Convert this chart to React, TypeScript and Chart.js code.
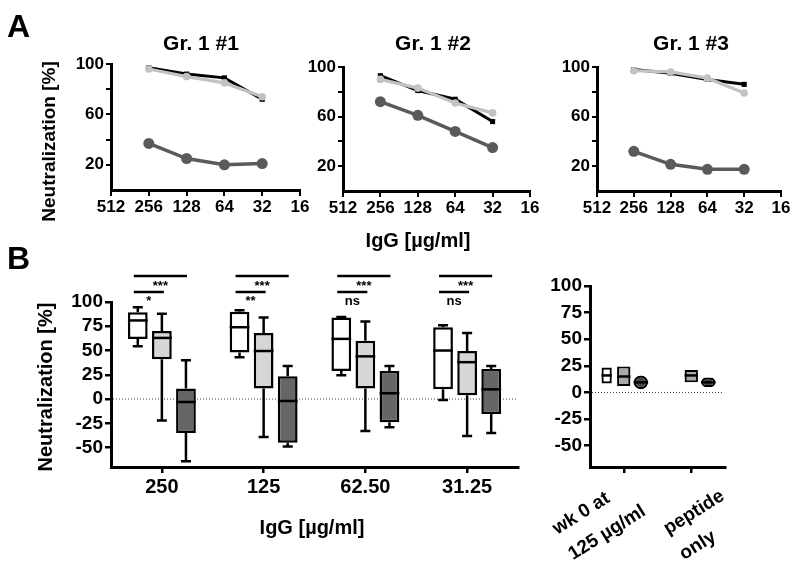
import React, { useEffect, useRef } from 'react';
import { Chart, registerables } from 'chart.js';
Chart.register(...registerables);

const FONT = '"Liberation Sans", Arial, Helvetica, sans-serif';

// ---------------- Panel A data ----------------
const doseTicks = [512, 256, 128, 64, 32, 16];
const doses = [256, 128, 64, 32];
const yTicksA = [20, 40, 60, 80, 100];
const yLabelsA = [20, 60, 100];
const titlesA = ['Gr. 1 #1', 'Gr. 1 #2', 'Gr. 1 #3'];

const m1Black = [97, 92, 89, 72];
const m1Light = [96, 90, 85, 74];
const m1Dark = [37, 25, 20, 21];
const m2Black = [93, 81, 74, 56];
const m2Light = [90, 83, 71, 63];
const m2Dark = [72, 61, 48, 35];
const m3Black = [98, 95, 90, 86];
const m3Light = [97, 96, 91, 79];
const m3Dark = [32, 21.5, 17.5, 17.5];

// ---------------- Panel B data ----------------
const concentrations = ['250', '125', '62.50', '31.25'];
const yTicksB = [-50, -25, 0, 25, 50, 75, 100];

const whiteMin = [54.5, 43, 24.5, -1];
const whiteQ1 = [62, 48, 29, 10];
const whiteMed = [81, 74, 62, 50];
const whiteQ3 = [89.5, 90, 84, 74];
const whiteMax = [94.5, 91.5, 84.5, 76];

const lightMin = [-22, -39, -33, -38];
const lightQ1 = [41, 11, 11, 4];
const lightMed = [63, 49.5, 44, 38];
const lightQ3 = [70, 68, 60, 49.5];
const lightMax = [88, 84, 80, 68];

const darkMin = [-64, -49, -29, -35];
const darkQ1 = [-35, -45, -24, -15.5];
const darkMed = [-3, -2, 6, 10];
const darkQ3 = [11, 23.5, 29, 31];
const darkMax = [40, 34, 34, 34];

const sigTop = ['***', '***', '***', '***'];
const sigBottom = ['*', '**', 'ns', 'ns'];

const controlCats = [['wk 0 at', '125 µg/ml'], ['peptide', 'only']];
const ctrlWhiteQ1 = [8.5, null];
const ctrlWhiteMed = [16, null];
const ctrlWhiteQ3 = [23.5, null];
const ctrlGrayQ1 = [6, 9.5];
const ctrlGrayMed = [15, 16];
const ctrlGrayQ3 = [24.5, 21];
const ctrlDarkQ1 = [3, 5];
const ctrlDarkMed = [9.5, 9.5];
const ctrlDarkQ3 = [16, 14];

// ---------------- helpers ----------------
const boldFont = (size: number) => ({ family: FONT, size, weight: 'bold' as const });

function axisStyle() {
  return {
    grid: { drawOnChartArea: false, drawTicks: true, tickLength: 6, color: '#000', lineWidth: 2 },
    border: { display: true, color: '#000', width: 3 },
  };
}

type Area = { left: number; top: number; right: number; bottom: number };
const Y_W = 60;
const X_H = 40;

function padFor(area: Area, yw = Y_W, xh = X_H) {
  return { left: area.left - yw, top: area.top, right: 800 - area.right, bottom: 570 - area.bottom - xh };
}

function lineConfig(black: number[], light: number[], dark: number[], area: Area): any {
  const pts = (vals: number[]) => doses.map((x, i) => ({ x, y: vals[i] }));
  return {
    type: 'line',
    data: {
      datasets: [
        { data: pts(light), borderColor: '#c2c2c2', backgroundColor: '#c2c2c2', borderWidth: 3.2, pointRadius: 3.8, pointBorderWidth: 0 },
        { data: pts(black), borderColor: '#000', backgroundColor: '#000', borderWidth: 3, pointRadius: 3.6, pointStyle: 'rect', pointBorderWidth: 0 },
        { data: pts(dark), borderColor: '#5a5a5a', backgroundColor: '#5a5a5a', borderWidth: 3.5, pointRadius: 5.5, pointBorderWidth: 0 },
      ],
    },
    options: {
      responsive: false,
      animation: false,
      events: [],
      layout: { padding: padFor(area) },
      plugins: { legend: { display: false }, tooltip: { enabled: false } },
      scales: {
        x: {
          type: 'logarithmic',
          reverse: true,
          min: 16,
          max: 512,
          afterBuildTicks: (s: any) => { s.ticks = doseTicks.map((v) => ({ value: v })); },
          afterFit: (s: any) => { s.height = X_H; },
          ticks: { callback: (v: any) => String(v), autoSkip: false, maxRotation: 0, minRotation: 0, font: boldFont(17), color: '#000', padding: 1 },
          ...axisStyle(),
        },
        y: {
          min: 0,
          max: 100,
          afterBuildTicks: (s: any) => { s.ticks = yTicksA.map((v) => ({ value: v })); },
          afterFit: (s: any) => { s.width = Y_W; },
          ticks: { callback: (v: any) => (yLabelsA.includes(v) ? String(v) : ''), font: boldFont(17), color: '#000', padding: 2 },
          ...axisStyle(),
          grid: { drawOnChartArea: false, drawTicks: true, tickLength: 5, color: '#000', lineWidth: 2 },
        },
      },
    },
  };
}

const boxPlugin = {
  id: 'boxWhiskers',
  beforeDatasetsDraw(chart: any) {
    const { ctx, chartArea, scales } = chart;
    const y = scales.y.getPixelForValue(0);
    ctx.save();
    ctx.strokeStyle = '#444';
    ctx.lineWidth = 1;
    ctx.setLineDash([1, 2]);
    ctx.beginPath();
    ctx.moveTo(chartArea.left + 2, y);
    ctx.lineTo(chartArea.right - 2, y);
    ctx.stroke();
    ctx.restore();
  },
  afterDatasetsDraw(chart: any) {
    const { ctx, scales } = chart;
    const ys = scales.y;
    ctx.save();
    ctx.strokeStyle = '#000';
    ctx.lineWidth = 2.5;
    ctx.lineCap = 'butt';
    chart.data.datasets.forEach((ds: any, d: number) => {
      const meta = chart.getDatasetMeta(d);
      meta.data.forEach((el: any, i: number) => {
        const v = ds.data[i];
        if (v == null) return;
        const { x, width } = el.getProps(['x', 'width'], true);
        const half = width / 2;
        if (ds.meds) {
          const ym = ys.getPixelForValue(ds.meds[i]);
          ctx.beginPath();
          ctx.moveTo(x - half, ym);
          ctx.lineTo(x + half, ym);
          ctx.stroke();
        }
        if (ds.mins && ds.maxs) {
          const cap = 5;
          const yq1 = ys.getPixelForValue(v[0]);
          const yq3 = ys.getPixelForValue(v[1]);
          const ymin = ys.getPixelForValue(ds.mins[i]);
          const ymax = ys.getPixelForValue(ds.maxs[i]);
          ctx.beginPath();
          ctx.moveTo(x, yq3);
          ctx.lineTo(x, ymax);
          ctx.moveTo(x - cap, ymax);
          ctx.lineTo(x + cap, ymax);
          ctx.moveTo(x, yq1);
          ctx.lineTo(x, ymin);
          ctx.moveTo(x - cap, ymin);
          ctx.lineTo(x + cap, ymin);
          ctx.stroke();
        }
      });
    });
    ctx.restore();
  },
};

const sigPlugin = {
  id: 'significance',
  afterDraw(chart: any) {
    const { ctx, chartArea } = chart;
    const m0 = chart.getDatasetMeta(0).data;
    const m1 = chart.getDatasetMeta(1).data;
    const m2 = chart.getDatasetMeta(2).data;
    ctx.save();
    ctx.strokeStyle = '#000';
    ctx.fillStyle = '#000';
    ctx.lineWidth = 2.5;
    ctx.textAlign = 'center';
    ctx.textBaseline = 'alphabetic';
    ctx.font = `bold 13px ${FONT}`;
    concentrations.forEach((_, i) => {
      const xa = m0[i].x - 4;
      const xb = m2[i].x + 1;
      const xc = m1[i].x + 2;
      const y1 = chartArea.top - 26;
      const y2 = chartArea.top - 10;
      ctx.beginPath();
      ctx.moveTo(xa, y1);
      ctx.lineTo(xb, y1);
      ctx.moveTo(xa, y2);
      ctx.lineTo(xc, y2);
      ctx.stroke();
      ctx.fillText(sigTop[i], (xa + xb) / 2, chartArea.top - 12);
      ctx.fillText(sigBottom[i], (xa + xc) / 2, chartArea.top + 3);
    });
    ctx.restore();
  },
};

function boxOptions(area: Area, showX: boolean): any {
  return {
    responsive: false,
    animation: false,
    events: [],
    layout: { padding: padFor(area, 80, X_H) },
    plugins: { legend: { display: false }, tooltip: { enabled: false } },
    scales: {
      x: {
        type: 'category',
        afterFit: (s: any) => { s.height = X_H; },
        ticks: { display: showX, font: boldFont(20), color: '#000', padding: 2, maxRotation: 0, autoSkip: false },
        ...axisStyle(),
        grid: { offset: false, drawOnChartArea: false, drawTicks: true, tickLength: 6, color: '#000', lineWidth: 2.5 },
      },
      y: {
        min: -70,
        max: 100,
        afterBuildTicks: (s: any) => { s.ticks = yTicksB.map((v) => ({ value: v })); },
        afterFit: (s: any) => { s.width = 80; },
        ticks: { font: boldFont(19), color: '#000', padding: 2 },
        ...axisStyle(),
        grid: { drawOnChartArea: false, drawTicks: true, tickLength: 6, color: '#000', lineWidth: 2.5 },
      },
    },
  };
}

const range = (a: (number | null)[], b: (number | null)[]) => a.map((v, i) => (v == null ? null : [v, b[i] as number]));

function mainBoxConfig(): any {
  const common = { borderColor: '#000', borderWidth: 2.5, borderSkipped: false, barPercentage: 0.82, categoryPercentage: 0.71 };
  return {
    type: 'bar',
    data: {
      labels: concentrations,
      datasets: [
        { ...common, data: range(whiteQ1, whiteQ3), backgroundColor: '#ffffff', mins: whiteMin, meds: whiteMed, maxs: whiteMax },
        { ...common, data: range(lightQ1, lightQ3), backgroundColor: '#d6d6d6', mins: lightMin, meds: lightMed, maxs: lightMax },
        { ...common, data: range(darkQ1, darkQ3), backgroundColor: '#666666', mins: darkMin, meds: darkMed, maxs: darkMax },
      ],
    },
    options: boxOptions({ left: 111, top: 302, right: 518, bottom: 467 }, true),
    plugins: [boxPlugin, sigPlugin],
  };
}

function controlBoxConfig(): any {
  const common = { borderColor: '#000', borderWidth: 2.2, borderSkipped: false, categoryPercentage: 0.76 };
  return {
    type: 'bar',
    data: {
      labels: controlCats,
      datasets: [
        { ...common, barPercentage: 0.6, data: range(ctrlWhiteQ1, ctrlWhiteQ3), backgroundColor: '#ffffff', meds: ctrlWhiteMed },
        { ...common, barPercentage: 0.78, data: range(ctrlGrayQ1, ctrlGrayQ3), backgroundColor: '#a9a9a9', meds: ctrlGrayMed },
        { ...common, barPercentage: 0.85, borderRadius: 8, data: range(ctrlDarkQ1, ctrlDarkQ3), backgroundColor: '#454545', meds: ctrlDarkMed },
      ],
    },
    options: boxOptions({ left: 590, top: 286, right: 725, bottom: 467 }, false),
    plugins: [boxPlugin],
  };
}

function ChartLayer({ make }: { make: () => any }) {
  const ref = useRef<HTMLCanvasElement>(null);
  useEffect(() => {
    const chart = new Chart(ref.current as HTMLCanvasElement, make());
    return () => chart.destroy();
  }, []);
  return <canvas ref={ref} width={800} height={570} style={{ position: 'absolute', left: 0, top: 0, width: 800, height: 570 }} />;
}

const textBase: React.CSSProperties = { position: 'absolute', fontFamily: FONT, fontWeight: 'bold', color: '#000', lineHeight: 1, whiteSpace: 'pre' };

function CText({ cx, top, size, children }: { cx: number; top: number; size: number; children: React.ReactNode }) {
  return <div style={{ ...textBase, left: cx - 200, width: 400, textAlign: 'center', top, fontSize: size }}>{children}</div>;
}

function VText({ cx, cy, size, children }: { cx: number; cy: number; size: number; children: React.ReactNode }) {
  return (
    <div style={{ ...textBase, left: cx - 200, width: 400, top: cy - size / 2, height: size, textAlign: 'center', fontSize: size, transform: 'rotate(-90deg)', transformOrigin: '50% 50%' }}>
      {children}
    </div>
  );
}

const titleCenters = [201, 433, 691];
const rotLabelPos = [
  { left: 546, top: 517 },
  { left: 657, top: 517 },
];

export default function App() {
  return (
    <div style={{ position: 'fixed', left: 0, top: 0, width: 800, height: 570, background: '#fff', overflow: 'hidden' }}>
      <ChartLayer make={() => lineConfig(m1Black, m1Light, m1Dark, { left: 111, top: 64, right: 300, bottom: 190 })} />
      <ChartLayer make={() => lineConfig(m2Black, m2Light, m2Dark, { left: 343, top: 67, right: 530, bottom: 191 })} />
      <ChartLayer make={() => lineConfig(m3Black, m3Light, m3Dark, { left: 597, top: 67, right: 781, bottom: 191 })} />
      <ChartLayer make={mainBoxConfig} />
      <ChartLayer make={controlBoxConfig} />

      <div style={{ ...textBase, left: 7, top: 10, fontSize: 32 }}>A</div>
      <div style={{ ...textBase, left: 7, top: 242, fontSize: 32 }}>B</div>

      {titlesA.map((t, i) => (
        <CText key={t} cx={titleCenters[i]} top={32} size={21}>{t}</CText>
      ))}
      <VText cx={48} cy={141} size={19}>Neutralization [%]</VText>
      <CText cx={418} top={230} size={20}>IgG [µg/ml]</CText>

      <VText cx={45} cy={387} size={20}>Neutralization [%]</VText>
      <CText cx={312} top={517} size={20}>IgG [µg/ml]</CText>

      {controlCats.map((lines, i) => (
        <div
          key={i}
          style={{ ...textBase, left: rotLabelPos[i].left, top: rotLabelPos[i].top, fontSize: 19, lineHeight: '30px', transform: 'rotate(-32deg)', transformOrigin: '0 0' }}
        >
          {lines.join('\n')}
        </div>
      ))}
    </div>
  );
}
